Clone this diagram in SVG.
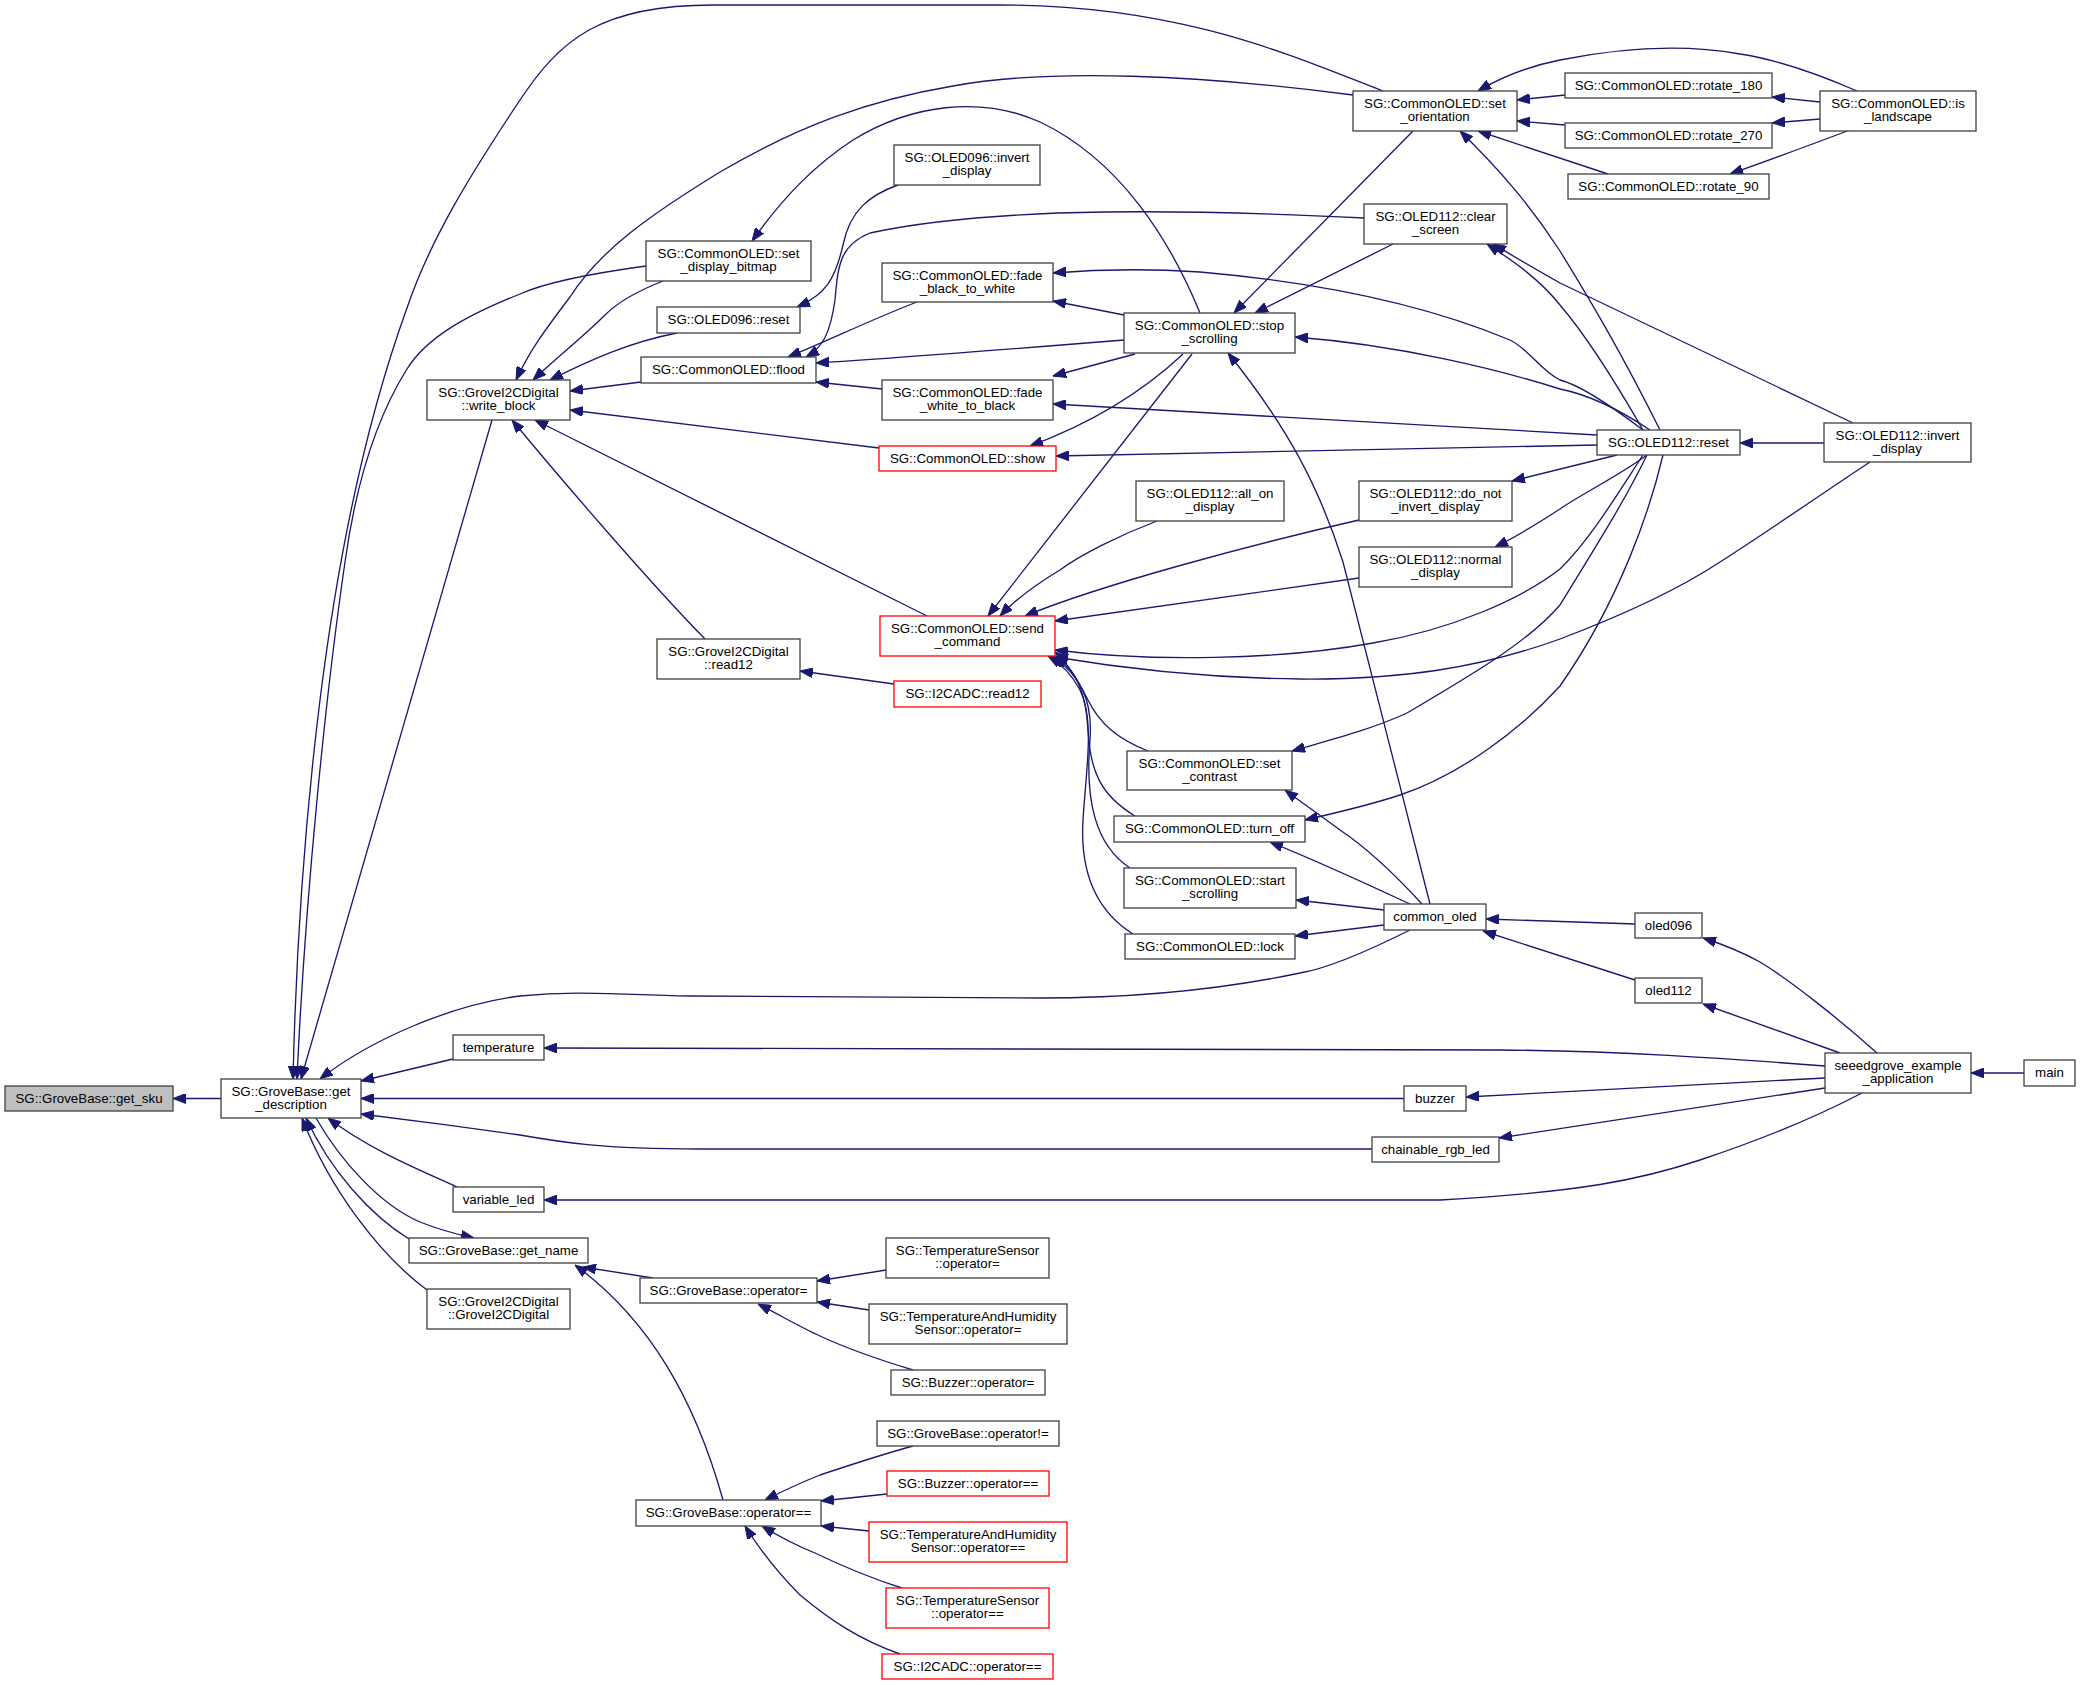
<svg xmlns="http://www.w3.org/2000/svg" width="2080" height="1685" viewBox="0 0 2080 1685">
<style>
.e{fill:none;stroke:#191970;stroke-width:1.33;marker-end:url(#ah)}
.n{fill:#fff;stroke:#404040;stroke-width:1.3}
.r{fill:#fff;stroke:#ff0000;stroke-width:1.3}
.g{fill:#bfbfbf;stroke:#404040;stroke-width:1.3}
text{font-family:"Liberation Sans",Arial,Helvetica,sans-serif;font-size:13.3px;text-anchor:middle;fill:#000}
</style>
<defs>
<marker id="ah" markerUnits="userSpaceOnUse" markerWidth="13" markerHeight="10" viewBox="0 0 13 10" refX="13" refY="5" orient="auto">
<path d="M0,0 L13,5 L0,10 Z" fill="#191970" stroke="#191970" stroke-width="1"/>
</marker>
</defs>
<rect width="2080" height="1685" fill="#fff"/>
<g id="edges">
<path class="e" d="M221,1098.5 L173,1098.5"/>
<path class="e" d="M492,420 L301,1079"/>
<path class="e" d="M1383,91 C1290,55 1180,5 1000,5 L713,5 C600,5 560,40 520,100 C470,175 430,240 407,308 C370,410 340,540 320,700 C305,820 296,950 293,1079"/>
<path class="e" d="M646,266 C580,275 540,285 520,294 C460,318 425,340 407,369 C375,420 355,490 345,562 C325,700 305,900 297,1079"/>
<path class="e" d="M1410,930 C1370,950 1330,968 1300,973 C1200,994 1100,998 1040,998 L690,996 C620,995 580,990 520,996 C450,1005 370,1040 320,1079"/>
<path class="e" d="M453,1059 L361,1081"/>
<path class="e" d="M1404,1098.5 L361,1098.5"/>
<path class="e" d="M1372,1149 L700,1149 C600,1149 560,1142 520,1135 C470,1128 410,1120 361,1114"/>
<path class="e" d="M457,1187 C420,1170 370,1150 328,1118"/>
<path class="e" d="M316,1118 C340,1160 380,1205 420,1222 C440,1230 455,1234 474,1238"/>
<path class="e" d="M409,1239 C370,1215 330,1170 306,1118"/>
<path class="e" d="M427,1290 C380,1255 330,1190 302,1118"/>
<path class="e" d="M1353,95 C1200,75 1050,68 953,86 C870,100 800,125 720,172 C650,215 600,250 570,297 C545,330 530,350 516,380"/>
<path class="e" d="M663,281 C640,290 620,300 605,315 C585,335 560,355 533,380"/>
<path class="e" d="M677,333 C630,342 590,360 550,380"/>
<path class="e" d="M641,382 L570,391"/>
<path class="e" d="M879,448 L570,410"/>
<path class="e" d="M927,616 L535,420"/>
<path class="e" d="M705,639 C650,583 560,478 512,420"/>
<path class="e" d="M1200,313 C1170,240 1120,160 1040,122 C980,95 910,105 853,140 C815,165 785,195 752,241"/>
<path class="e" d="M898,185 C870,195 850,210 843,245 C835,280 825,295 797,307"/>
<path class="e" d="M1364,218 C1200,210 1000,205 870,233 C840,245 838,265 835,300 C830,335 822,348 806,357"/>
<path class="e" d="M917,302 C870,320 830,340 788,357"/>
<path class="e" d="M1124,340 C1000,350 900,358 816,363"/>
<path class="e" d="M882,389 L816,382"/>
<path class="e" d="M1124,315 L1053,301"/>
<path class="e" d="M1643,430 C1610,405 1580,385 1560,380 C1540,370 1530,350 1510,340 C1450,315 1350,285 1200,272 C1140,268 1090,270 1053,273"/>
<path class="e" d="M1135,354 L1053,376"/>
<path class="e" d="M1597,435 L1053,404"/>
<path class="e" d="M1183,354 C1150,385 1100,420 1030,446"/>
<path class="e" d="M1597,445 L1056,456"/>
<path class="e" d="M1413,131 L1234,313"/>
<path class="e" d="M1393,244 L1255,313"/>
<path class="e" d="M1650,430 C1620,410 1590,395 1560,389 C1500,370 1400,345 1295,337"/>
<path class="e" d="M1430,904 L1343,562 C1320,490 1290,430 1228,353"/>
<path class="e" d="M1192,354 L988,616"/>
<path class="e" d="M1157,521 C1120,535 1080,555 1060,570 C1035,585 1015,600 1000,616"/>
<path class="e" d="M1359,520 C1250,545 1100,585 1025,616"/>
<path class="e" d="M1359,578 L1055,621"/>
<path class="e" d="M1643,455 C1620,490 1590,540 1560,569 C1520,600 1450,630 1373,643 C1280,660 1150,662 1055,650"/>
<path class="e" d="M1870,462 C1820,495 1770,530 1720,562 C1670,595 1610,620 1560,639 C1480,668 1400,680 1300,679 C1200,678 1120,668 1055,657"/>
<path class="e" d="M1647,455 C1625,500 1600,540 1560,605 C1530,640 1480,670 1407,713 C1370,730 1330,740 1292,751"/>
<path class="e" d="M1663,455 C1650,510 1620,600 1560,686 C1520,730 1460,775 1400,795 C1370,805 1340,812 1305,820"/>
<path class="e" d="M1617,455 L1512,481"/>
<path class="e" d="M1647,455 C1620,475 1580,495 1560,509 C1540,522 1520,535 1495,547"/>
<path class="e" d="M1660,430 C1620,350 1590,300 1560,251 C1530,205 1500,170 1460,131"/>
<path class="e" d="M1643,430 C1620,390 1590,340 1560,305 C1540,280 1515,262 1487,244"/>
<path class="e" d="M1853,423 L1560,283 C1540,272 1520,260 1493,244"/>
<path class="e" d="M1824,443 L1740,443"/>
<path class="e" d="M1857,91 C1820,75 1780,60 1740,54 C1690,45 1630,46 1560,60 C1530,66 1505,75 1478,91"/>
<path class="e" d="M1820,102 L1772,97"/>
<path class="e" d="M1820,119 L1772,123"/>
<path class="e" d="M1850,130 C1810,145 1770,160 1730,174"/>
<path class="e" d="M1565,95 L1517,100"/>
<path class="e" d="M1565,125 L1517,121"/>
<path class="e" d="M1608,174 C1580,165 1530,148 1478,131"/>
<path class="e" d="M1635,924 L1486,919"/>
<path class="e" d="M1635,980 L1483,931"/>
<path class="e" d="M1422,904 C1400,880 1370,850 1340,830 C1320,815 1305,805 1285,790"/>
<path class="e" d="M1410,904 C1380,890 1320,862 1270,842"/>
<path class="e" d="M1384,910 L1296,900"/>
<path class="e" d="M1384,925 L1295,936"/>
<path class="e" d="M1148,751 C1120,740 1100,725 1088,700 C1080,685 1070,665 1055,652"/>
<path class="e" d="M1135,816 C1100,795 1090,770 1088,730 C1086,690 1075,670 1055,656"/>
<path class="e" d="M1130,868 C1095,845 1085,800 1090,740 C1093,700 1080,675 1052,656"/>
<path class="e" d="M1133,934 C1095,910 1080,870 1083,820 C1086,770 1095,720 1080,690 C1072,675 1062,664 1048,656"/>
<path class="e" d="M2024,1073 L1971,1073"/>
<path class="e" d="M1877,1053 C1840,1020 1790,980 1760,962 C1740,951 1725,945 1703,938"/>
<path class="e" d="M1840,1053 L1703,1004"/>
<path class="e" d="M1825,1066 C1720,1058 1620,1051 1500,1050 L544,1048"/>
<path class="e" d="M1825,1078 L1466,1097"/>
<path class="e" d="M1825,1088 L1499,1138"/>
<path class="e" d="M1862,1093 C1820,1115 1760,1140 1700,1160 C1640,1180 1580,1192 1440,1200 L544,1200"/>
<path class="e" d="M653,1278 L583,1267"/>
<path class="e" d="M723,1500 C695,1400 650,1320 575,1265"/>
<path class="e" d="M886,1270 L817,1281"/>
<path class="e" d="M869,1310 L817,1302"/>
<path class="e" d="M913,1370 C880,1360 850,1350 820,1336 C800,1327 780,1315 758,1304"/>
<path class="e" d="M913,1446 C880,1455 850,1465 820,1475 C800,1483 785,1490 765,1500"/>
<path class="e" d="M887,1494 L821,1501"/>
<path class="e" d="M869,1531 L821,1526"/>
<path class="e" d="M902,1588 C870,1578 840,1565 815,1553 C795,1545 780,1537 762,1526"/>
<path class="e" d="M900,1654 C860,1640 830,1620 800,1595 C780,1575 760,1550 745,1526"/>
<path class="e" d="M894,684 L800,671"/>
</g>
<g id="n1"><rect class="g" x="5" y="1086" width="168" height="25"/><text x="89" y="1103">SG::GroveBase::get_sku</text></g>
<g id="n2"><rect class="n" x="221" y="1079" width="140" height="39"/><text x="291" y="1096">SG::GroveBase::get</text><text x="291" y="1109">_description</text></g>
<g id="n3"><rect class="n" x="427" y="380" width="143" height="40"/><text x="498.5" y="397">SG::GroveI2CDigital</text><text x="498.5" y="410">::write_block</text></g>
<g id="n4"><rect class="n" x="646" y="241" width="165" height="40"/><text x="728.5" y="258">SG::CommonOLED::set</text><text x="728.5" y="271">_display_bitmap</text></g>
<g id="n5"><rect class="n" x="657" y="307" width="143" height="26"/><text x="728.5" y="324">SG::OLED096::reset</text></g>
<g id="n6"><rect class="n" x="641" y="357" width="175" height="26"/><text x="728.5" y="374">SG::CommonOLED::flood</text></g>
<g id="n7"><rect class="n" x="894" y="145" width="146" height="40"/><text x="967" y="162">SG::OLED096::invert</text><text x="967" y="175">_display</text></g>
<g id="n8"><rect class="n" x="882" y="263" width="171" height="39"/><text x="967.5" y="280">SG::CommonOLED::fade</text><text x="967.5" y="293">_black_to_white</text></g>
<g id="n9"><rect class="n" x="882" y="380" width="171" height="40"/><text x="967.5" y="397">SG::CommonOLED::fade</text><text x="967.5" y="410">_white_to_black</text></g>
<g id="n10"><rect class="r" x="879" y="446" width="177" height="25"/><text x="967.5" y="463">SG::CommonOLED::show</text></g>
<g id="n11"><rect class="r" x="880" y="616" width="175" height="40"/><text x="967.5" y="633">SG::CommonOLED::send</text><text x="967.5" y="646">_command</text></g>
<g id="n12"><rect class="n" x="657" y="639" width="143" height="40"/><text x="728.5" y="656">SG::GroveI2CDigital</text><text x="728.5" y="669">::read12</text></g>
<g id="n13"><rect class="r" x="894" y="681" width="147" height="26"/><text x="967.5" y="698">SG::I2CADC::read12</text></g>
<g id="n14"><rect class="n" x="1353" y="91" width="164" height="40"/><text x="1435" y="108">SG::CommonOLED::set</text><text x="1435" y="121">_orientation</text></g>
<g id="n15"><rect class="n" x="1124" y="313" width="171" height="40"/><text x="1209.5" y="330">SG::CommonOLED::stop</text><text x="1209.5" y="343">_scrolling</text></g>
<g id="n16"><rect class="n" x="1364" y="204" width="143" height="40"/><text x="1435.5" y="221">SG::OLED112::clear</text><text x="1435.5" y="234">_screen</text></g>
<g id="n17"><rect class="n" x="1136" y="481" width="148" height="40"/><text x="1210" y="498">SG::OLED112::all_on</text><text x="1210" y="511">_display</text></g>
<g id="n18"><rect class="n" x="1359" y="481" width="153" height="40"/><text x="1435.5" y="498">SG::OLED112::do_not</text><text x="1435.5" y="511">_invert_display</text></g>
<g id="n19"><rect class="n" x="1359" y="547" width="153" height="40"/><text x="1435.5" y="564">SG::OLED112::normal</text><text x="1435.5" y="577">_display</text></g>
<g id="n20"><rect class="n" x="1565" y="73" width="207" height="25"/><text x="1668.5" y="90">SG::CommonOLED::rotate_180</text></g>
<g id="n21"><rect class="n" x="1565" y="123" width="207" height="25"/><text x="1668.5" y="140">SG::CommonOLED::rotate_270</text></g>
<g id="n22"><rect class="n" x="1568" y="174" width="201" height="25"/><text x="1668.5" y="191">SG::CommonOLED::rotate_90</text></g>
<g id="n23"><rect class="n" x="1820" y="91" width="156" height="40"/><text x="1898" y="108">SG::CommonOLED::is</text><text x="1898" y="121">_landscape</text></g>
<g id="n24"><rect class="n" x="1597" y="430" width="143" height="25"/><text x="1668.5" y="447">SG::OLED112::reset</text></g>
<g id="n25"><rect class="n" x="1824" y="423" width="147" height="39"/><text x="1897.5" y="440">SG::OLED112::invert</text><text x="1897.5" y="453">_display</text></g>
<g id="n26"><rect class="n" x="1127" y="751" width="165" height="39"/><text x="1209.5" y="768">SG::CommonOLED::set</text><text x="1209.5" y="781">_contrast</text></g>
<g id="n27"><rect class="n" x="1114" y="816" width="191" height="26"/><text x="1209.5" y="833">SG::CommonOLED::turn_off</text></g>
<g id="n28"><rect class="n" x="1124" y="868" width="172" height="40"/><text x="1210" y="885">SG::CommonOLED::start</text><text x="1210" y="898">_scrolling</text></g>
<g id="n29"><rect class="n" x="1125" y="934" width="170" height="25"/><text x="1210" y="951">SG::CommonOLED::lock</text></g>
<g id="n30"><rect class="n" x="1384" y="904" width="102" height="26"/><text x="1435" y="921">common_oled</text></g>
<g id="n31"><rect class="n" x="1635" y="913" width="67" height="25"/><text x="1668.5" y="930">oled096</text></g>
<g id="n32"><rect class="n" x="1635" y="978" width="67" height="25"/><text x="1668.5" y="995">oled112</text></g>
<g id="n33"><rect class="n" x="1825" y="1053" width="146" height="40"/><text x="1898" y="1070">seeedgrove_example</text><text x="1898" y="1083">_application</text></g>
<g id="n34"><rect class="n" x="2024" y="1060" width="51" height="26"/><text x="2049.5" y="1077">main</text></g>
<g id="n35"><rect class="n" x="453" y="1035" width="91" height="25"/><text x="498.5" y="1052">temperature</text></g>
<g id="n36"><rect class="n" x="1404" y="1086" width="62" height="25"/><text x="1435" y="1103">buzzer</text></g>
<g id="n37"><rect class="n" x="1372" y="1137" width="127" height="25"/><text x="1435.5" y="1154">chainable_rgb_led</text></g>
<g id="n38"><rect class="n" x="453" y="1187" width="91" height="25"/><text x="498.5" y="1204">variable_led</text></g>
<g id="n39"><rect class="n" x="409" y="1238" width="179" height="25"/><text x="498.5" y="1255">SG::GroveBase::get_name</text></g>
<g id="n40"><rect class="n" x="427" y="1289" width="143" height="40"/><text x="498.5" y="1306">SG::GroveI2CDigital</text><text x="498.5" y="1319">::GroveI2CDigital</text></g>
<g id="n41"><rect class="n" x="640" y="1278" width="177" height="25"/><text x="728.5" y="1295">SG::GroveBase::operator=</text></g>
<g id="n42"><rect class="n" x="886" y="1238" width="163" height="40"/><text x="967.5" y="1255">SG::TemperatureSensor</text><text x="967.5" y="1268">::operator=</text></g>
<g id="n43"><rect class="n" x="869" y="1304" width="198" height="40"/><text x="968" y="1321">SG::TemperatureAndHumidity</text><text x="968" y="1334">Sensor::operator=</text></g>
<g id="n44"><rect class="n" x="891" y="1370" width="154" height="25"/><text x="968" y="1387">SG::Buzzer::operator=</text></g>
<g id="n45"><rect class="n" x="877" y="1421" width="182" height="25"/><text x="968" y="1438">SG::GroveBase::operator!=</text></g>
<g id="n46"><rect class="r" x="887" y="1471" width="162" height="25"/><text x="968" y="1488">SG::Buzzer::operator==</text></g>
<g id="n47"><rect class="r" x="869" y="1522" width="198" height="40"/><text x="968" y="1539">SG::TemperatureAndHumidity</text><text x="968" y="1552">Sensor::operator==</text></g>
<g id="n48"><rect class="r" x="886" y="1588" width="163" height="40"/><text x="967.5" y="1605">SG::TemperatureSensor</text><text x="967.5" y="1618">::operator==</text></g>
<g id="n49"><rect class="r" x="882" y="1654" width="171" height="25"/><text x="967.5" y="1671">SG::I2CADC::operator==</text></g>
<g id="n50"><rect class="n" x="636" y="1500" width="185" height="26"/><text x="728.5" y="1517">SG::GroveBase::operator==</text></g>
</svg>
